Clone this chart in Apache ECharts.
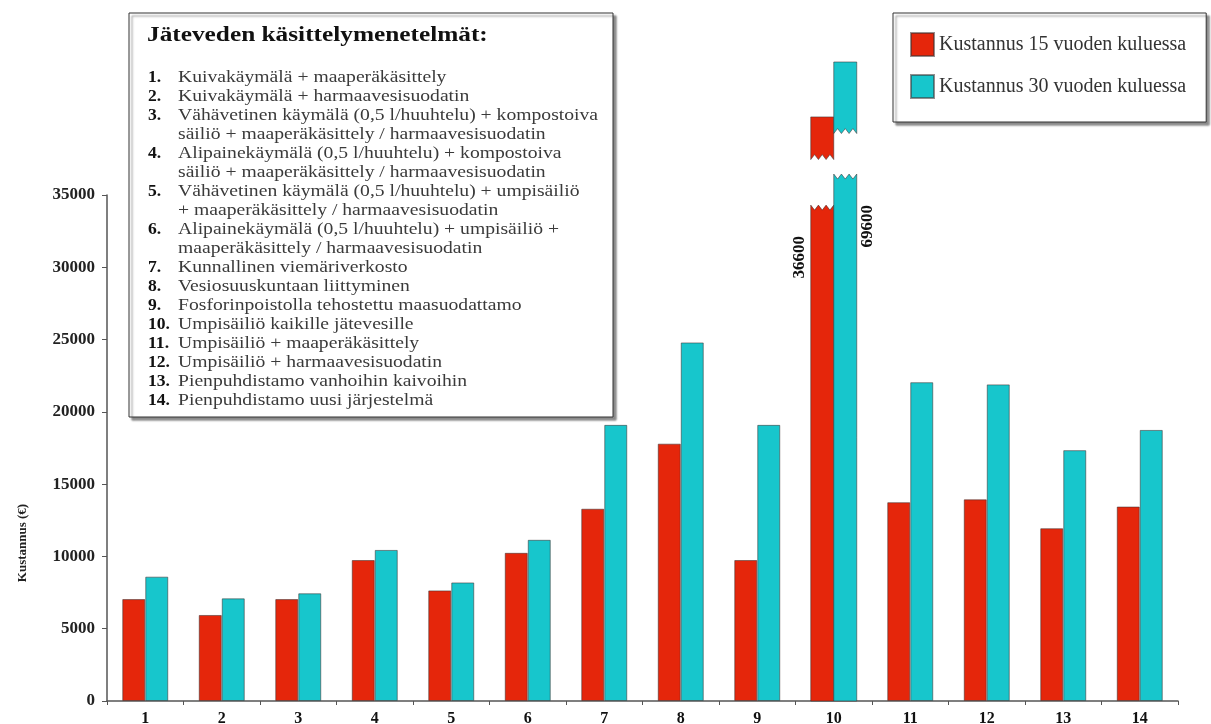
<!DOCTYPE html>
<html>
<head>
<meta charset="utf-8">
<script src="https://cdn.jsdelivr.net/npm/echarts@6/dist/echarts.min.js"></script>
<style>
  html, body { margin: 0; padding: 0; background: #fff; }
  #chart { width: 1211px; height: 724px; }
</style>
</head>
<body>
<div id="chart"></div>
<script>
// values
const categories = ['1', '2', '3', '4', '5', '6', '7', '8', '9', '10', '11', '12', '13', '14'];
const cost15 = [7050, 5950, 7050, 9750, 7650, 10250, 13300, 17800, 9750, 36600, 13750, 13950, 11950, 13450];
const cost30 = [8600, 7100, 7450, 10450, 8200, 11150, 19100, 24800, 19100, 69600, 22050, 21900, 17350, 18750];
const seriesNames = ['Kustannus 15 vuoden kuluessa', 'Kustannus 30 vuoden kuluessa'];

// bar 10 is drawn broken: shown top of the lower piece and span of the upper piece
const brokenIndex = 9;
const brokenLowTop = [34300, 36450];
const brokenUpper = [[37450, 40400], [39250, 44200]];

const boxTitle = 'Jäteveden käsittelymenetelmät:';
const methods = [
  ['Kuivakäymälä + maaperäkäsittely'],
  ['Kuivakäymälä + harmaavesisuodatin'],
  ['Vähävetinen käymälä (0,5 l/huuhtelu) + kompostoiva', 'säiliö + maaperäkäsittely / harmaavesisuodatin'],
  ['Alipainekäymälä (0,5 l/huuhtelu) + kompostoiva', 'säiliö + maaperäkäsittely / harmaavesisuodatin'],
  ['Vähävetinen käymälä (0,5 l/huuhtelu) + umpisäiliö', '+ maaperäkäsittely / harmaavesisuodatin'],
  ['Alipainekäymälä (0,5 l/huuhtelu) + umpisäiliö +', 'maaperäkäsittely / harmaavesisuodatin'],
  ['Kunnallinen viemäriverkosto'],
  ['Vesiosuuskuntaan liittyminen'],
  ['Fosforinpoistolla tehostettu maasuodattamo'],
  ['Umpisäiliö kaikille jätevesille'],
  ['Umpisäiliö + maaperäkäsittely'],
  ['Umpisäiliö + harmaavesisuodatin'],
  ['Pienpuhdistamo vanhoihin kaivoihin'],
  ['Pienpuhdistamo uusi järjestelmä']
];

const RED = '#e5260b';
const CYAN = '#17c6cc';
const colors = [RED, CYAN];
const BAR_W = 23;
const SERIF = '"Liberation Serif", "DejaVu Serif", serif';
const EDGE = 'rgba(60,50,50,0.55)';

const numberLines = [];
const bodyLines = [];
methods.forEach((lines, i) => {
  lines.forEach((l, j) => {
    numberLines.push(j === 0 ? (i + 1) + '.' : '');
    bodyLines.push(l);
  });
});

const chart = echarts.init(document.getElementById('chart'));

// zigzag edge from x0 to x1 at y, notches pointing in dir (+1 down, -1 up)
function zigzag(x0, x1, y, amp, dir) {
  const pts = [];
  const n = 3;
  for (let k = 0; k <= 2 * n; k++) {
    pts.push([x0 + (x1 - x0) * k / (2 * n), y + (k % 2 ? amp * dir : 0)]);
  }
  return pts;
}

function renderBroken(params, api) {
  const idx = api.value(0);
  const base = api.coord([idx, 0]);
  const children = [];
  [0, 1].forEach((s) => {
    const x0 = base[0] + (s - 1) * BAR_W;
    const x1 = x0 + BAR_W;
    const yLow = api.coord([idx, brokenLowTop[s]])[1];
    const yUpB = api.coord([idx, brokenUpper[s][0]])[1];
    const yUpT = api.coord([idx, brokenUpper[s][1]])[1];
    const style = { fill: colors[s], stroke: EDGE, lineWidth: 1 };
    const lower = [[x0, base[1]]].concat(zigzag(x0, x1, yLow, 5, 1), [[x1, base[1]]]);
    const upper = [[x0, yUpT], [x1, yUpT]].concat(zigzag(x1, x0, yUpB, 5, -1));
    children.push({ type: 'polygon', shape: { points: lower }, style: style });
    children.push({ type: 'polygon', shape: { points: upper }, style: style });
    const value = s === 0 ? cost15[idx] : cost30[idx];
    children.push({
      type: 'text',
      x: s === 0 ? x0 - 11 : x1 + 11,
      y: yLow + 31,
      rotation: Math.PI / 2,
      style: {
        text: String(value),
        fontFamily: SERIF, fontWeight: 'bold', fontSize: 17,
        fill: '#111', align: 'right', verticalAlign: 'middle'
      }
    });
  });
  return { type: 'group', children: children };
}

chart.setOption({
  animation: false,
  backgroundColor: '#fff',
  textStyle: { fontFamily: SERIF },
  grid: { left: 107, right: 33, top: 195, bottom: 23, containLabel: false, outerBoundsMode: 'none' },
  legend: {
    data: seriesNames,
    orient: 'vertical',
    left: 893,
    top: 13,
    itemWidth: 23,
    itemHeight: 23,
    itemGap: 17,
    icon: 'rect',
    padding: [19, 20, 23, 17],
    borderColor: '#333',
    borderWidth: 1,
    backgroundColor: '#fff',
    shadowColor: 'rgba(0,0,0,0.45)',
    shadowOffsetX: 3,
    shadowOffsetY: 3,
    shadowBlur: 2,
    textStyle: { fontFamily: SERIF, fontSize: 20, color: '#333', padding: [16, 0, 0, 0] }
  },
  xAxis: {
    type: 'category',
    data: categories,
    axisLine: { show: true, lineStyle: { color: '#555', width: 1.5 } },
    axisTick: { show: true, alignWithLabel: false, length: 4, lineStyle: { color: '#555' } },
    axisLabel: { interval: 0, margin: 10, color: '#111', fontFamily: SERIF, fontWeight: 'bold', fontSize: 16 },
    splitLine: { show: false }
  },
  yAxis: {
    type: 'value',
    min: 0,
    max: 35000,
    interval: 5000,
    name: 'Kustannus (€)',
    nameLocation: 'middle',
    nameRotate: 90,
    nameGap: 78,
    nameTextStyle: { color: '#222', fontFamily: SERIF, fontWeight: 'bold', fontSize: 13, padding: [0, 190, 0, 0] },
    axisLine: { show: true, lineStyle: { color: '#555', width: 1.5 } },
    axisTick: { show: true, length: 5, lineStyle: { color: '#555' } },
    axisLabel: {
      margin: 12, color: '#222', fontFamily: SERIF, fontWeight: 'bold', fontSize: 17,
      formatter: (v) => String(v)
    },
    splitLine: { show: false }
  },
  graphic: [
    {
      type: 'rect',
      shape: { x: 129, y: 13, width: 484, height: 404 },
      style: { fill: '#fff', stroke: '#333', lineWidth: 1, shadowColor: 'rgba(0,0,0,0.45)', shadowOffsetX: 3, shadowOffsetY: 3, shadowBlur: 2 },
      z: 10
    },
    {
      type: 'text', x: 147, y: 35, scaleX: 1.15, z: 11,
      style: { text: boxTitle, fontFamily: SERIF, fontWeight: 'bold', fontSize: 22, fill: '#111', verticalAlign: 'middle' }
    },
    {
      type: 'text', x: 148, y: 68, scaleX: 1.1, z: 11,
      style: { text: numberLines.join('\n'), fontFamily: SERIF, fontWeight: 'bold', fontSize: 16, lineHeight: 19, fill: '#111', verticalAlign: 'top' }
    },
    {
      type: 'text', x: 178, y: 68, scaleX: 1.19, z: 11,
      style: { text: bodyLines.join('\n'), fontFamily: SERIF, fontSize: 16.5, lineHeight: 19, fill: '#3a3a3a', verticalAlign: 'top' }
    }
  ],
  series: [
    {
      name: seriesNames[0],
      type: 'bar',
      barWidth: BAR_W,
      barGap: '0%',
      data: cost15.map((v, i) => (i === brokenIndex ? '-' : v)),
      itemStyle: { color: RED, borderColor: EDGE, borderWidth: 1 }
    },
    {
      name: seriesNames[1],
      type: 'bar',
      barWidth: BAR_W,
      barGap: '0%',
      data: cost30.map((v, i) => (i === brokenIndex ? '-' : v)),
      itemStyle: { color: CYAN, borderColor: EDGE, borderWidth: 1 }
    },
    {
      name: 'broken',
      type: 'custom',
      data: [[brokenIndex, 0]],
      encode: { x: 0, y: 1 },
      clip: false,
      silent: true,
      z: 3,
      renderItem: renderBroken
    }
  ]
});
</script>
</body>
</html>
